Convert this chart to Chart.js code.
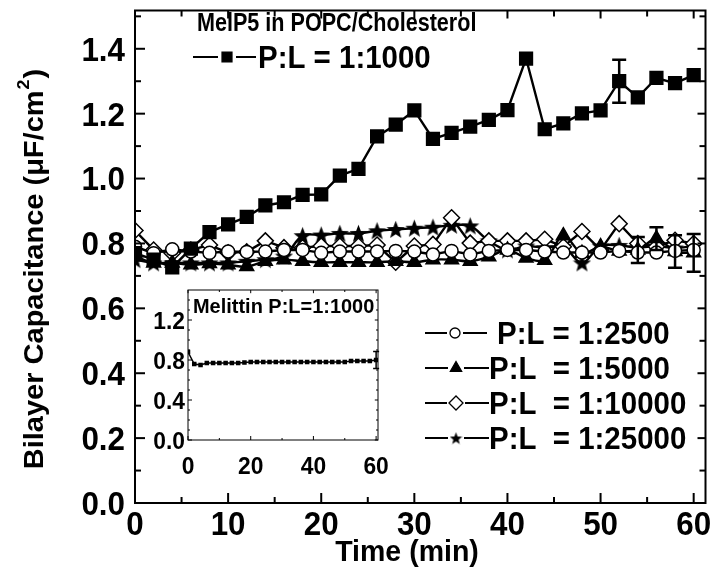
<!DOCTYPE html>
<html>
<head>
<meta charset="utf-8">
<title>MelP5 in POPC/Cholesterol</title>
<script src="https://cdn.jsdelivr.net/npm/chart.js@4.4.1/dist/chart.umd.min.js"></script>
<style>
  html, body { margin: 0; padding: 0; background: #fff; }
  #wrap { position: relative; width: 716px; height: 571px; }
  canvas { position: absolute; }
  #main { left: 0; top: 0; }
  #inset { left: 120px; top: 279px; }
</style>
</head>
<body>
<div id="wrap">
  <canvas id="main" width="716" height="571"></canvas>
  <canvas id="inset" width="270" height="215"></canvas>
</div>
<script>
// ---- data ----
const times = [0, 2, 4, 6, 8, 10, 12, 14, 16, 18, 20, 22, 24, 26, 28, 30,
  32, 34, 36, 38, 40, 42, 44, 46, 48, 50, 52, 54, 56, 58, 60]

const pl1000 = [0.77, 0.75, 0.726, 0.784, 0.835, 0.859, 0.882, 0.917, 0.927, 0.95, 0.951,
  1.009, 1.03, 1.13, 1.166, 1.21, 1.122, 1.141, 1.16, 1.181, 1.211, 1.37, 1.152,
  1.17, 1.201, 1.21, 1.30, 1.25, 1.31, 1.294, 1.319]
const pl2500 = [0.79, 0.77, 0.782, 0.775, 0.771, 0.775, 0.774, 0.775, 0.78, 0.78, 0.771,
  0.775, 0.775, 0.775, 0.777, 0.775, 0.766, 0.777, 0.766, 0.777, 0.78, 0.78, 0.775,
  0.772, 0.772, 0.772, 0.777, 0.772, 0.772, 0.777, 0.78]
const pl5000 = [0.76, 0.74, 0.74, 0.734, 0.738, 0.734, 0.729, 0.745, 0.75, 0.745, 0.742,
  0.742, 0.742, 0.742, 0.745, 0.742, 0.75, 0.75, 0.745, 0.759, 0.78, 0.755, 0.748,
  0.824, 0.77, 0.79, 0.777, 0.78, 0.815, 0.775, 0.771]
const pl10000 = [0.84, 0.78, 0.77, 0.78, 0.795, 0.771, 0.774, 0.808, 0.787, 0.787, 0.792,
  0.792, 0.792, 0.795, 0.742, 0.792, 0.797, 0.879, 0.801, 0.808, 0.808, 0.808, 0.813,
  0.79, 0.837, 0.78, 0.861, 0.80, 0.79, 0.81, 0.80]
const pl25000 = [0.75, 0.74, 0.74, 0.74, 0.74, 0.74, 0.745, 0.75, 0.761, 0.824, 0.826,
  0.831, 0.831, 0.839, 0.843, 0.847, 0.85, 0.856, 0.854, 0.808, 0.78, 0.792, 0.787,
  0.79, 0.74, 0.792, 0.794, 0.787, 0.792, 0.786, 0.792]

// [time, +/- error]
const err1000 = [[52, 0.066]]
const err5000 = [[54, 0.04], [56, 0.035], [58, 0.05], [60, 0.058]]

// inset: melittin P:L = 1:1000
const melittin = [0.88, 0.76, 0.75, 0.77, 0.77, 0.77, 0.77, 0.77, 0.77, 0.775, 0.78,
  0.78, 0.78, 0.78, 0.78, 0.78, 0.78, 0.78, 0.78, 0.78, 0.78, 0.78, 0.78, 0.78, 0.78,
  0.78, 0.79, 0.79, 0.79, 0.79, 0.80]
const errMelittin = [[60, 0.085]]

const xLabels = [0, 10, 20, 30, 40, 50, 60]
const xMinor = [5, 15, 25, 35, 45, 55]
const yLabels = [0, 0.2, 0.4, 0.6, 0.8, 1.0, 1.2, 1.4]
const yMinor = [0.1, 0.3, 0.5, 0.7, 0.9, 1.1, 1.3, 1.5]
const insetXLabels = [0, 20, 40, 60]
const insetXMinor = [10, 30, 50]
const insetYLabels = [0, 0.4, 0.8, 1.2]
const insetYMinor = [0.1, 0.2, 0.3, 0.5, 0.6, 0.7, 0.9, 1.0, 1.1, 1.3, 1.4]

const FONT = '"Liberation Sans", Arial, Helvetica, sans-serif'
const SQ = 0.95 // the figure's lettering is slightly narrow

function pts(values) {
  return times.map((t, i) => ({ x: t, y: values[i] }))
}

function starCanvas(size) {
  const c = document.createElement('canvas')
  c.width = size
  c.height = size
  const g = c.getContext('2d')
  const r = size / 2, ri = r * 0.42
  g.beginPath()
  for (let k = 0; k < 10; k++) {
    const rr = k % 2 ? ri : r
    const a = -Math.PI / 2 + k * Math.PI / 5
    g.lineTo(r + rr * Math.cos(a), r + 0.8 + rr * Math.sin(a))
  }
  g.closePath()
  g.fillStyle = '#000'
  g.fill()
  return c
}
const starBig = starCanvas(19)
const starSmall = starCanvas(13)

function text(ctx, str, x, y, align, size, sx) {
  ctx.save()
  ctx.fillStyle = '#000'
  ctx.font = `bold ${size}px ${FONT}`
  ctx.textAlign = align
  ctx.textBaseline = 'alphabetic'
  ctx.translate(x, y)
  ctx.scale(sx || SQ, 1)
  ctx.fillText(str, 0, 0)
  ctx.restore()
}

function fmt(v) {
  return v === 0 ? '0.0' : v.toFixed(1)
}

// frame, inward ticks and tick labels, drawn through the chart's scales
function framePlugin(cfg) {
  return {
    id: 'frame',
    afterDatasetsDraw(chart) {
      const { ctx, chartArea: a, scales: { x, y } } = chart
      ctx.save()
      ctx.strokeStyle = '#000'
      ctx.lineWidth = cfg.lineWidth
      ctx.strokeRect(a.left, a.top, a.right - a.left, a.bottom - a.top)

      const seg = (x1, y1, x2, y2) => {
        ctx.beginPath()
        ctx.moveTo(x1, y1)
        ctx.lineTo(x2, y2)
        ctx.stroke()
      }
      cfg.xMajor.forEach(v => {
        const p = x.getPixelForValue(v)
        seg(p, a.bottom, p, a.bottom - cfg.major)
        seg(p, a.top, p, a.top + cfg.major * 0.8)
      })
      cfg.xMinor.forEach(v => {
        const p = x.getPixelForValue(v)
        seg(p, a.bottom, p, a.bottom - cfg.minor)
        seg(p, a.top, p, a.top + cfg.minor)
      })
      cfg.yMajor.forEach(v => {
        const p = y.getPixelForValue(v)
        seg(a.left, p, a.left + cfg.major, p)
        seg(a.right, p, a.right - cfg.major * 0.8, p)
      })
      cfg.yMinor.forEach(v => {
        const p = y.getPixelForValue(v)
        seg(a.left, p, a.left + cfg.minor, p)
        seg(a.right, p, a.right - cfg.minor, p)
      })

      cfg.xMajor.forEach(v => {
        text(ctx, String(v), x.getPixelForValue(v), a.bottom + cfg.xLabelDrop, 'center', cfg.tickFont)
      })
      cfg.yMajor.forEach(v => {
        const p = y.getPixelForValue(v)
        text(ctx, fmt(v), a.left - cfg.yLabelGap, p + cfg.tickFont * 0.36, 'right', cfg.tickFont)
      })
      ctx.restore()
    }
  }
}

const errorBars = {
  id: 'errorBars',
  afterDatasetsDraw(chart) {
    const { ctx, scales: { x, y } } = chart
    ctx.save()
    ctx.strokeStyle = '#000'
    chart.data.datasets.forEach(ds => {
      if (!ds.errorBars) return
      ctx.lineWidth = ds.errorWidth || 2.5
      const cap = ds.errorCap || 6
      ds.errorBars.forEach(([t, e]) => {
        const pt = ds.data.find(d => d.x === t)
        const px = x.getPixelForValue(t)
        const hi = y.getPixelForValue(pt.y + e)
        const lo = y.getPixelForValue(pt.y - e)
        ctx.beginPath()
        ctx.moveTo(px, hi); ctx.lineTo(px, lo)
        ctx.moveTo(px - cap, hi); ctx.lineTo(px + cap, hi)
        ctx.moveTo(px - cap, lo); ctx.lineTo(px + cap, lo)
        ctx.stroke()
      })
    })
    ctx.restore()
  }
}

// legend key: line - marker - line
function legendKey(ctx, x, y, len, style) {
  ctx.save()
  ctx.strokeStyle = '#000'
  ctx.lineWidth = 2.2
  ctx.beginPath()
  ctx.moveTo(x, y)
  ctx.lineTo(x + len, y)
  ctx.stroke()
  const mx = x + style.at
  ctx.fillStyle = '#fff'
  ctx.fillRect(mx - style.gap, y - 3, style.gap * 2, 6)
  ctx.fillStyle = style.fill
  ctx.lineWidth = 1.3
  Chart.helpers.drawPoint(ctx, { pointStyle: style.pointStyle, radius: style.radius, rotation: 0, borderWidth: 1.3 }, mx, y)
  ctx.restore()
}

const annotations = {
  id: 'annotations',
  afterDraw(chart) {
    const { ctx } = chart
    text(ctx, 'MelP5 in POPC/Cholesterol', 197, 31, 'left', 26, 0.83)

    legendKey(ctx, 193, 57, 63, { pointStyle: 'rect', radius: 7, fill: '#000', gap: 9, at: 34 })
    text(ctx, 'P:L = 1:1000', 258, 68, 'left', 31)

    const rows = [
      { y: 333, label: 'P:L = 1:2500', key: { pointStyle: 'circle', radius: 5, fill: '#fff', gap: 8, at: 30 }, tx: 497, len: 62 },
      { y: 368, label: 'P:L  = 1:5000', key: { pointStyle: 'triangle', radius: 6.5, fill: '#000', gap: 8, at: 31 }, tx: 489, len: 64 },
      { y: 403, label: 'P:L  = 1:10000', key: { pointStyle: 'rectRot', radius: 7, fill: '#fff', gap: 9, at: 31 }, tx: 489, len: 64 },
      { y: 438, label: 'P:L  = 1:25000', key: { pointStyle: starSmall, radius: 6, fill: '#000', gap: 8, at: 31 }, tx: 489, len: 64 }
    ]
    rows.forEach(r => {
      legendKey(ctx, 425, r.y, r.len, r.key)
      text(ctx, r.label, r.tx, r.y + 11, 'left', 31)
    })

    text(ctx, 'Time (min)', 407, 561, 'center', 30)

    // rotated y title with superscript
    ctx.save()
    ctx.fillStyle = '#000'
    ctx.translate(33, 270)
    ctx.rotate(-Math.PI / 2)
    ctx.scale(1, SQ)
    ctx.textBaseline = 'alphabetic'
    const big = `bold 29px ${FONT}`, small = `bold 18px ${FONT}`
    const p1 = 'Bilayer Capacitance (\u03BCF/cm', p2 = '2', p3 = ')'
    ctx.font = big
    const w1 = ctx.measureText(p1).width, w3 = ctx.measureText(p3).width
    ctx.font = small
    const w2 = ctx.measureText(p2).width
    const sx = -(w1 + w2 + w3) / 2
    ctx.font = big
    ctx.fillText(p1, sx, 10)
    ctx.font = small
    ctx.fillText(p2, sx + w1 + 1, -4)
    ctx.font = big
    ctx.fillText(p3, sx + w1 + w2 + 2, 10)
    ctx.restore()
  }
}

const lineBase = { borderColor: '#000', borderWidth: 2.4, pointBorderColor: '#000', pointBorderWidth: 1.5 }

new Chart(document.getElementById('main'), {
  type: 'line',
  data: {
    datasets: [
      { ...lineBase, label: 'P:L = 1:1000', data: pts(pl1000), pointStyle: 'rect', pointRadius: 9,
        pointBackgroundColor: '#000', tension: 0, errorBars: err1000, errorCap: 7 },
      { ...lineBase, label: 'P:L = 1:2500', data: pts(pl2500), pointStyle: 'circle', pointRadius: 6.5,
        pointBackgroundColor: '#fff', tension: 0 },
      { ...lineBase, label: 'P:L = 1:5000', data: pts(pl5000), pointStyle: 'triangle', pointRadius: 8,
        pointBackgroundColor: '#000', tension: 0.35, errorBars: err5000, errorCap: 7 },
      { ...lineBase, label: 'P:L = 1:10000', data: pts(pl10000), pointStyle: 'rectRot', pointRadius: 8,
        pointBackgroundColor: '#fff', tension: 0 },
      { ...lineBase, label: 'P:L = 1:25000', data: pts(pl25000), pointStyle: starBig, pointRadius: 9,
        pointBackgroundColor: '#000', tension: 0.35 }
    ]
  },
  options: {
    responsive: false,
    animation: false,
    events: [],
    layout: { padding: { left: 135, right: 4, top: 2, bottom: 68 } },
    scales: {
      x: { type: 'linear', display: false, min: 0, max: 61.27 },
      y: { type: 'linear', display: false, min: 0, max: 1.518 }
    },
    plugins: { legend: { display: false }, tooltip: { enabled: false } }
  },
  plugins: [errorBars, framePlugin({
    lineWidth: 2, major: 10, minor: 6, tickFont: 33, xLabelDrop: 32, yLabelGap: 10,
    xMajor: xLabels, xMinor: xMinor, yMajor: yLabels, yMinor: yMinor
  }), annotations]
})

const insetTitle = {
  id: 'insetTitle',
  afterDraw(chart) {
    const { ctx, chartArea: a } = chart
    text(ctx, 'Melittin P:L=1:1000', a.left + 5, a.top + 23, 'left', 21)
  }
}

new Chart(document.getElementById('inset'), {
  type: 'line',
  data: {
    datasets: [
      { borderColor: '#000', borderWidth: 1.5, data: pts(melittin), pointStyle: 'rect', pointRadius: 3.2,
        pointBackgroundColor: '#000', pointBorderWidth: 0, tension: 0, errorBars: errMelittin,
        errorCap: 3, errorWidth: 1.5 }
    ]
  },
  options: {
    responsive: false,
    animation: false,
    events: [],
    layout: { padding: { left: 68, right: 12, top: 11, bottom: 54 } },
    scales: {
      x: { type: 'linear', display: false, min: 0, max: 60.6 },
      y: { type: 'linear', display: false, min: 0, max: 1.5 }
    },
    plugins: { legend: { display: false }, tooltip: { enabled: false } }
  },
  plugins: [errorBars, framePlugin({
    lineWidth: 1, major: 4, minor: 2, tickFont: 24, xLabelDrop: 34, yLabelGap: 3,
    xMajor: insetXLabels, xMinor: insetXMinor, yMajor: insetYLabels, yMinor: insetYMinor
  }), insetTitle]
})
</script>
</body>
</html>
